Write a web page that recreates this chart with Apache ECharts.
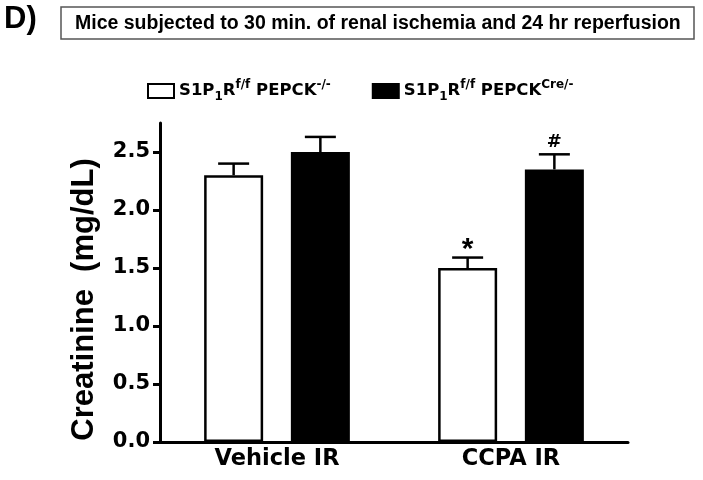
<!DOCTYPE html>
<html>
<head>
<meta charset="utf-8">
<script src="https://cdn.jsdelivr.net/npm/echarts@6/dist/echarts.min.js"></script>
<style>html,body{margin:0;padding:0;background:#fff;}#c{width:703px;height:480px;}</style>
</head>
<body>
<div id="c"></div>
<script>
// ---- data ----
const categories = ['Vehicle IR', 'CCPA IR'];
const wtName = 'S1P1Rf/f PEPCK-/-';
const koName = 'S1P1Rf/f PEPCKCre/-';
const wtLegendRich = '{a|S1P}{sub|1}{a|R}{sup|f/f}{a| PEPCK}{sup|-/-}';
const koLegendRich = '{a|S1P}{sub|1}{a|R}{sup|f/f}{a| PEPCK}{sup|Cre/-}';
const wtValues = [2.30, 1.50];
const wtErrors = [0.10, 0.09];
const wtMarks = ['', '*'];
const koValues = [2.50, 2.35];
const koErrors = [0.13, 0.13];
const koMarks = ['', '#'];
const yTicks = [0, 0.5, 1.0, 1.5, 2.0, 2.5];
const panelLabel = 'D)';
const titleText = 'Mice subjected to 30 min. of renal ischemia and 24 hr reperfusion';
const yName = 'Creatinine  (mg/dL)';

// ---- layout / style constants ----
const BAR_W = 59;
const GAP_PCT = 0.47;
const OFFSET = (BAR_W + BAR_W * GAP_PCT) / 2;
const CAP_HALF = 15.5;
const MARK_STYLE = {
  '*': { font: 'bold 30px "Liberation Sans"', dy: 9 },
  '#': { font: 'bold 18px "DejaVu Sans"', dy: -1 }
};

function errorSeries(values, errors, marks, sign) {
  return {
    type: 'custom',
    silent: true,
    z: 5,
    data: values.map((v, i) => [i, v, errors[i]]),
    renderItem: function (params, api) {
      const i = api.value(0);
      const v = api.value(1);
      const e = api.value(2);
      const x = api.coord([i, 0])[0] + sign * OFFSET;
      const yBase = api.coord([i, v])[1];
      const yTop = api.coord([i, v + e])[1];
      const style = { stroke: '#000', lineWidth: 2.5 };
      const children = [
        { type: 'line', shape: { x1: x, y1: yBase, x2: x, y2: yTop }, style: style },
        { type: 'line', shape: { x1: x - CAP_HALF, y1: yTop, x2: x + CAP_HALF, y2: yTop }, style: style }
      ];
      const m = marks[params.dataIndex];
      if (m) {
        const ms = MARK_STYLE[m];
        children.push({
          type: 'text',
          style: {
            text: m, x: x, y: yTop - 2 + ms.dy, align: 'center', verticalAlign: 'bottom',
            font: ms.font, fill: '#000'
          }
        });
      }
      return { type: 'group', children: children };
    }
  };
}

const chart = echarts.init(document.getElementById('c'), null, { renderer: 'canvas' });
chart.setOption({
  backgroundColor: '#fff',
  animation: false,
  title: [
    {
      text: panelLabel, left: 4, top: 4, padding: 0,
      textStyle: { fontFamily: 'Liberation Sans', fontWeight: 'bold', fontSize: 31, color: '#000' }
    },
    {
      text: titleText, left: 61, top: 7, padding: [7, 13, 6, 14],
      borderColor: '#555', borderWidth: 1.5,
      textStyle: { fontFamily: 'Liberation Sans', fontWeight: 'bold', fontSize: 19.5, color: '#000', lineHeight: 19 }
    }
  ],
  legend: {
    data: [wtName, koName],
    left: 142, top: 74,
    itemWidth: 26, itemHeight: 14, itemGap: 41,
    icon: 'rect',
    formatter: function (name) { return name === wtName ? wtLegendRich : koLegendRich; },
    textStyle: {
      color: '#000',
      rich: {
        a: { fontFamily: 'DejaVu Sans', fontWeight: 'bold', fontSize: 16.5, lineHeight: 24, verticalAlign: 'middle', color: '#000' },
        sub: { fontFamily: 'DejaVu Sans', fontWeight: 'bold', fontSize: 12, lineHeight: 12, verticalAlign: 'bottom', color: '#000' },
        sup: { fontFamily: 'DejaVu Sans', fontWeight: 'bold', fontSize: 12, lineHeight: 12, verticalAlign: 'top', color: '#000' }
      }
    }
  },
  grid: { left: 160, right: 75, top: 123, bottom: 38, containLabel: false },
  xAxis: {
    type: 'category',
    data: categories,
    axisLine: { lineStyle: { color: '#000', width: 3 } },
    axisTick: { show: false },
    axisLabel: { color: '#000', fontFamily: 'DejaVu Sans', fontWeight: 'bold', fontSize: 22.5, margin: 6 }
  },
  yAxis: {
    type: 'value',
    min: 0, max: 2.75, interval: 0.5,
    name: yName,
    nameLocation: 'middle',
    nameGap: 60,
    nameTextStyle: { color: '#000', fontFamily: 'Liberation Sans', fontWeight: 'bold', fontSize: 31, padding: [0, 34, 0, 0] },
    axisLine: { show: true, lineStyle: { color: '#000', width: 3 } },
    axisTick: { show: true, length: 7, lineStyle: { color: '#000', width: 3 }, customValues: yTicks },
    axisLabel: {
      customValues: yTicks,
      color: '#000', fontFamily: 'DejaVu Sans', fontWeight: 'bold', fontSize: 21, margin: 10,
      formatter: function (v) { return v.toFixed(1); }
    },
    splitLine: { show: false }
  },
  series: [
    {
      name: wtName, type: 'bar', data: wtValues,
      barWidth: BAR_W, barGap: (GAP_PCT * 100) + '%',
      itemStyle: { color: '#fff', borderColor: '#000', borderWidth: 2.5 }
    },
    {
      name: koName, type: 'bar', data: koValues,
      barWidth: BAR_W, barGap: (GAP_PCT * 100) + '%',
      itemStyle: { color: '#000', borderColor: '#000', borderWidth: 2.5 }
    },
    errorSeries(wtValues, wtErrors, wtMarks, -1),
    errorSeries(koValues, koErrors, koMarks, 1)
  ]
});
</script>
</body>
</html>
